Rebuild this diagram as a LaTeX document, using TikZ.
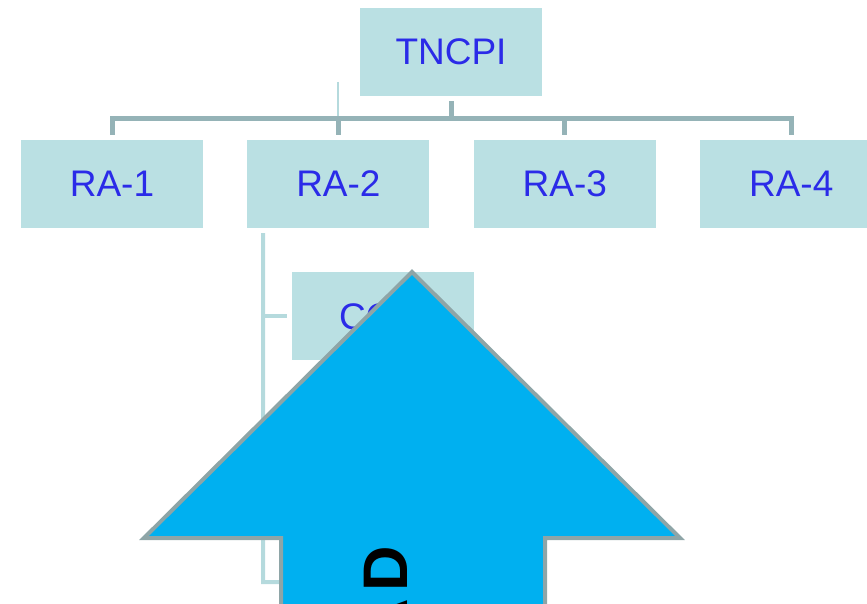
\documentclass[tikz,border=0pt]{standalone}
\usepackage{fontspec}
\setmainfont{Liberation Sans}
\usetikzlibrary{positioning}
\definecolor{boxfill}{HTML}{BAE0E3}
\definecolor{labelblue}{HTML}{2B2BE8}
\definecolor{busgray}{HTML}{95B3B7}
\definecolor{sublight}{HTML}{B5DADD}
\definecolor{arrowfill}{HTML}{00B0F0}
\definecolor{arrowedge}{HTML}{8EA5A7}
\tikzset{
  unit/.style={fill=boxfill, text=labelblue, minimum width=182pt, minimum height=88pt,
    inner sep=0pt, font=\fontsize{37}{40}\selectfont},
  bus/.style={draw=busgray, line width=5pt},
  thinbus/.style={draw=sublight, line width=2pt},
  subbus/.style={draw=sublight, line width=4pt},
  bigarrow/.style={fill=arrowfill, draw=arrowedge, line width=4pt, line join=miter},
  arrowword/.style={rotate=90, anchor=base east, inner sep=0pt,
    font=\fontsize{63}{63}\selectfont\bfseries}
}

\begin{document}
\begin{tikzpicture}[x=1pt,y=-1pt]
    \useasboundingbox (0,0) rectangle (867,604);
    \clip (0,0) rectangle (867,604);
    % top box
    \node[unit] (tncpi) at (451,52) {TNCPI};
    % row of RA boxes
    \node[unit] (ra1) at (112,184) {RA-1};
    \node[unit, right=44pt of ra1] (ra2) {RA-2};
    \node[unit, right=44pt of ra2] (ra3) {RA-3};
    \node[unit, right=44pt of ra3] (ra4) {RA-4};
    % bus under TNCPI
    \coordinate (bus) at (451,119);
    \coordinate (stray) at (ra2.north |- 0,82);
    \draw[thinbus] (stray) -- (stray |- bus);
    \draw[bus, shorten <=5pt] (tncpi.south) -- (bus);
    \draw[bus, shorten <=5pt, shorten >=5pt] (ra1.north) -- (ra1.north |- bus)
        -- (ra4.north |- bus) -- (ra4.north);
    \draw[bus, shorten >=5pt] (ra2.north |- bus) -- (ra2.north);
    \draw[bus, shorten >=5pt] (ra3.north |- bus) -- (ra3.north);
    % under RA-2
    \node[unit, anchor=north west] (co) at ([shift={(45,44)}]ra2.south west) {CO\hphantom{-1}};
    \coordinate (spine) at ([shift={(16,5)}]ra2.south west);
    \coordinate (spineend) at (263,582);
    \coordinate (lowend) at (279,582);
    \draw[subbus] (spine) -- (spineend) -- (lowend);
    \draw[subbus, shorten >=5pt] (spine |- co.west) -- (co.west);
    % big arrow
    \coordinate (tip) at (412,272);
    \draw[bigarrow] (tip) -- (680,538) -- (545,538) -- (545,640) -- (281,640)
        -- (281,538) -- (144,538) -- cycle;
    \node[arrowword] (word) at (407,546) {A\kern7pt D};
\end{tikzpicture}
\end{document}
